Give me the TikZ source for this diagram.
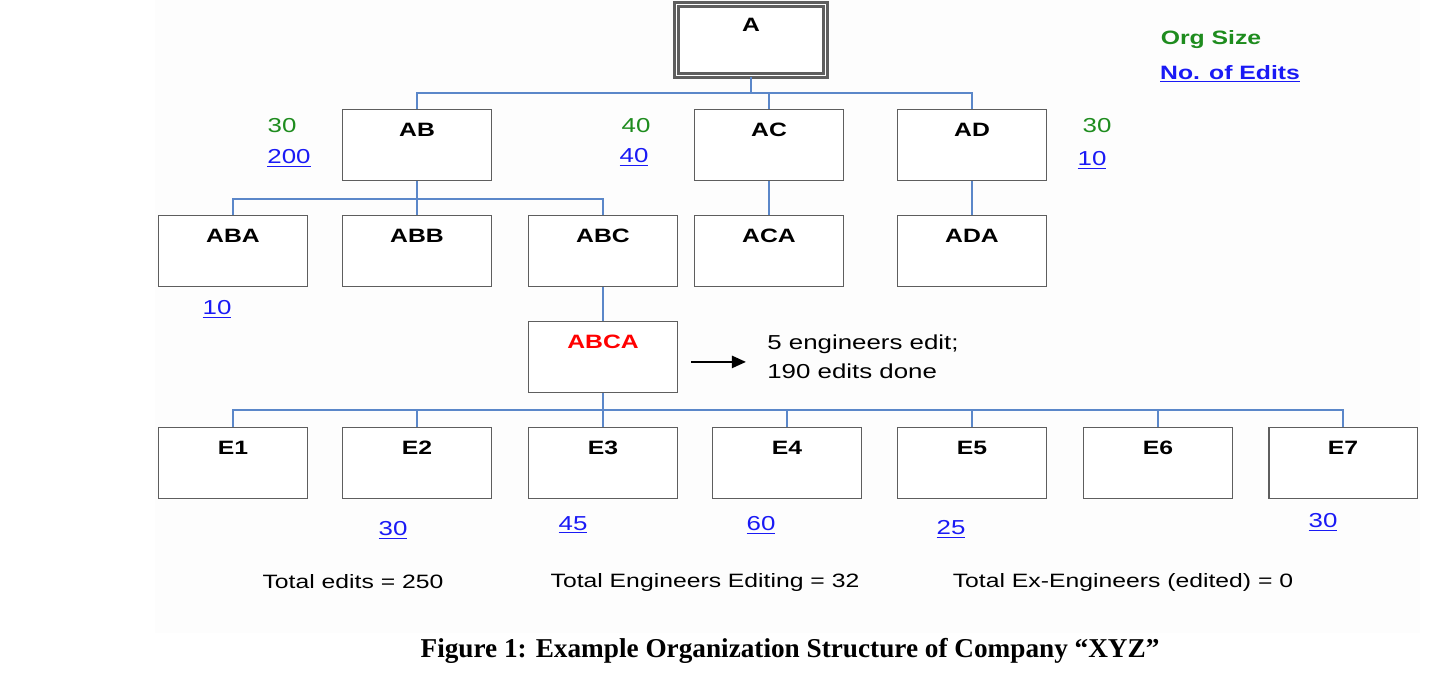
\documentclass[tikz,border=0pt]{standalone}
\usepackage{fontspec}
\setmainfont[FakeStretch=1.28]{Liberation Sans}
\newfontfamily\capfont{Liberation Serif}
\usetikzlibrary{arrows.meta}
\definecolor{linkblue}{HTML}{5B87C9}
\definecolor{boxgray}{HTML}{5E5E5E}
\definecolor{orggreen}{HTML}{1E8C1E}
\definecolor{editblue}{HTML}{1A1AF5}
\definecolor{panel}{HTML}{FDFDFD}
\tikzset{
  box/.style={draw=boxgray, line width=1.1pt, fill=white, minimum width=2.98cm,
    inner sep=0pt, text height=0.54cm, text depth=0.88cm,
    font=\fontsize{11}{13}\selectfont\bfseries},
  link/.style={draw=linkblue, line width=0.85pt},
  orgsize/.style={text=orggreen, font=\fontsize{11.5}{14}\selectfont},
  editcount/.style={text=editblue, font=\fontsize{11.5}{14}\selectfont},
  total/.style={font=\fontsize{11}{13}\selectfont}
}
\begin{document}
\begin{tikzpicture}[x=0.02cm, y=-0.02cm]
\useasboundingbox (0,0) rectangle (1456,680);
\fill[panel] (155,0) rectangle (1420,633);

\def\rowb{145}
\def\rowc{251}
\def\rowe{463}

\node[box, line width=1.5pt, double=white, double distance=1pt] (a) at (751,40) {A};
\node[box] (ab) at (417,\rowb) {AB};
\node[box] (ac) at (769,\rowb) {AC};
\node[box] (ad) at (972,\rowb) {AD};

\node[box] (aba) at (233,\rowc) {ABA};
\node[box] (abb) at (417,\rowc) {ABB};
\node[box] (abc) at (603,\rowc) {ABC};
\node[box] (aca) at (769,\rowc) {ACA};
\node[box] (ada) at (972,\rowc) {ADA};

\node[box, text=red] (abca) at (603,357) {ABCA};

\coordinate (busa) at (0,93);
\coordinate (busb) at (0,199);
\coordinate (buse) at (0,410);

\draw[link] (a.south) -- (a.south |- busa) -| (ab.north);
\draw[link] (a.south |- busa) -| (ac.north);
\draw[link] (a.south |- busa) -| (ad.north);
\draw[link] (ab.south) -- (ab.south |- busb) -| (aba.north);
\draw[link] (ab.south |- busb) -| (abc.north);
\draw[link] (ab.south) -- (abb.north);
\draw[link] (ac.south) -- (aca.north);
\draw[link] (ad.south) -- (ada.north);
\draw[link] (abc.south) -- (abca.north);

\foreach \i/\x in {1/233,2/417,3/603,4/787,5/972,6/1158,7/1343} {
  \node[box] (e\i) at (\x,\rowe) {E\i};
  \draw[link] (abca.south) -- (abca.south |- buse) -| (e\i.north);
}

\node[orgsize, font=\fontsize{11}{13}\selectfont\bfseries] (legsize) at (1211,40) {Org Size};
\node[editcount, font=\fontsize{11}{13}\selectfont\bfseries] (legedits) at (1230,74) {\underline{No. of Edits}};

\node[orgsize] (absize) at (282,126) {30};
\node[editcount] (abedits) at (289,158) {\underline{200}};
\node[orgsize] (acsize) at (636,126) {40};
\node[editcount] (acedits) at (634,157) {\underline{40}};
\node[orgsize] (adsize) at (1097,126) {30};
\node[editcount] (adedits) at (1092,160) {\underline{10}};
\node[editcount] (abaedits) at (217,309) {\underline{10}};

\node[editcount] (edits2) at (393,530) {\underline{30}};
\node[editcount] (edits3) at (573,525) {\underline{45}};
\node[editcount] (edits4) at (761,525) {\underline{60}};
\node[editcount] (edits5) at (951,529) {\underline{25}};
\node[editcount] (edits7) at (1323,522) {\underline{30}};

\node[anchor=west, align=left, inner sep=0pt, font=\fontsize{11.5}{16.5}\selectfont] (note) at (767,357) {5 engineers edit;\\190 edits done};
\draw[-{Triangle[length=8pt, width=7pt]}, line width=1pt, shorten <=7.4pt, shorten >=12pt]
  ([yshift=-2.8pt]abca.east) -- ([yshift=-2.8pt]abca.east -| note.west);

\node[total] (totedits) at (353,582) {Total edits = 250};
\node[total] (toteng) at (705,582) {Total Engineers Editing = 32};
\node[total] (totex) at (1123,582) {Total Ex-Engineers (edited) = 0};

\node[font=\capfont\fontsize{15.5}{18}\selectfont\bfseries] (caption) at (790,651)
  {Figure 1: Example Organization Structure of Company “XYZ”};
\end{tikzpicture}
\end{document}
